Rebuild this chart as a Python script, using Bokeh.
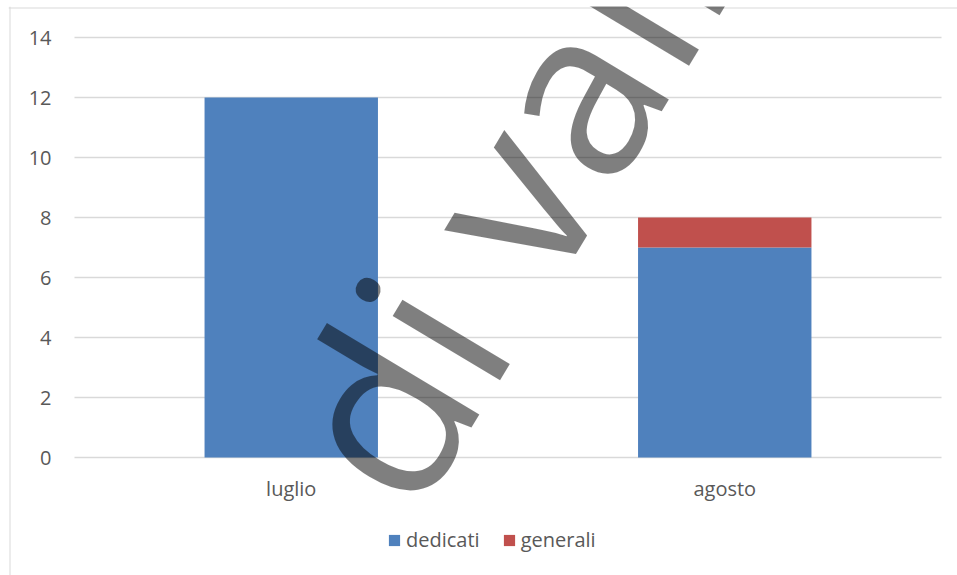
from bokeh.plotting import figure
from bokeh.models import ColumnDataSource, Legend, LegendItem, Label, Span
from bokeh.core.properties import value
from bokeh.embed import file_html
from bokeh.resources import INLINE

# ---- data ----
months = ["luglio", "agosto"]
dedicati = [12, 7]
generali = [0, 1]
series = ["dedicati", "generali"]
colors = ["#4F81BD", "#C0504D"]
y_ticks = [0, 2, 4, 6, 8, 10, 12, 14]
watermark = "di vall"

FONT = "Open Sans"
TXT = "#595959"
GRID = "#d9d9d9"

# ---- layout (pixels) ----
W, H = 957, 575
FL, FT = 8, 6                      # frame origin (page px)
PA_L, PA_R, PA_T, PA_B = 74, 941, 37, 457   # plot area in page px
n = len(months)
cat_px = (PA_R - PA_L) / n
unit_px = (PA_B - PA_T) / (y_ticks[-1] - y_ticks[0])
x_start = -(PA_L - FL) / cat_px
x_end = n + (W - PA_R) / cat_px
y_start = -(H - PA_B) / unit_px
y_end = y_ticks[-1] + (PA_T - FT) / unit_px

def px_x(px):
    return (px - PA_L) / cat_px

def px_y(py):
    return (PA_B - py) / unit_px

centers = [i + 0.5 for i in range(n)]
source = ColumnDataSource(data=dict(x=centers, month=months, dedicati=dedicati, generali=generali))

p = figure(
    x_range=(x_start, x_end), y_range=(y_start, y_end),
    width=W, height=H,
    output_backend="svg", toolbar_location=None,
    x_axis_location=None, y_axis_location=None,
    min_border_left=FL, min_border_right=0,
    min_border_top=FT, min_border_bottom=0,
)
p.outline_line_color = None
p.xgrid.visible = False
p.ygrid.visible = False
p.background_fill_color = "white"

# chart-area border (top & left)
p.add_layout(Span(location=px_y(7.5), dimension="width", line_color=GRID, line_width=1))
p.add_layout(Span(location=px_x(9.5), dimension="height", line_color=GRID, line_width=1))

# gridlines
p.segment(x0=[0] * len(y_ticks), x1=[n] * len(y_ticks), y0=y_ticks, y1=y_ticks,
          line_color=GRID, line_width=1.5)

# bars
renderers = p.vbar_stack(series, x="x", width=0.4, color=colors, source=source, line_color=None)

# y tick labels
p.text(x=[0] * len(y_ticks), y=y_ticks, text=[str(t) for t in y_ticks],
       x_offset=-23, y_offset=0, text_align="right", text_baseline="middle",
       text_font=value(FONT), text_font_size="20px", text_color=TXT)

# category labels
p.text(x=centers, y=[0] * n, text=months, y_offset=31,
       text_align="center", text_baseline="middle",
       text_font=value(FONT), text_font_size="20px", text_color=TXT)

legend = Legend(
    items=[LegendItem(label=s, renderers=[r]) for s, r in zip(series, renderers)],
    orientation="horizontal",
    location=(379, 22),
    label_text_font=FONT,
    label_text_font_size="20px",
    label_text_color=TXT,
    glyph_width=14, glyph_height=14,
    label_standoff=5,
    spacing=22,
    padding=0, margin=0,
    border_line_color=None,
    background_fill_alpha=0,
)
p.add_layout(legend, "center")

wm = Label(
    x=330, y=102, x_units="screen", y_units="screen",
    text=watermark, angle=59, angle_units="deg",
    text_font=FONT, text_font_size="234px",
    text_color="black", text_alpha=0.5,
    text_align="left", text_baseline="alphabetic",
)
p.add_layout(wm, "center")

open("out.html", "w").write(file_html(p, INLINE))
